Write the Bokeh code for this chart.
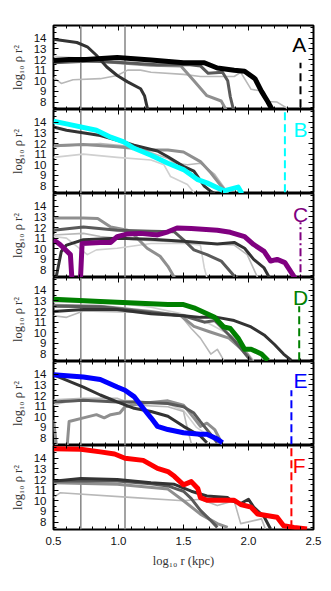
from bokeh.plotting import figure
from bokeh.models import Range1d, LinearAxis, FixedTicker, Span, Label, PrintfTickFormatter
from bokeh.layouts import column
from bokeh.embed import file_html
from bokeh.resources import INLINE

# ---------------- data ----------------
X_TICKS = [0.5, 1.0, 1.5, 2.0, 2.5]
X_MINOR = [0.6, 0.7, 0.8, 0.9, 1.1, 1.2, 1.3, 1.4, 1.6, 1.7, 1.8, 1.9, 2.1, 2.2, 2.3, 2.4]
Y_TICKS = [8, 9, 10, 11, 12, 13, 14]
Y_MINOR = [7.5, 8.5, 9.5, 10.5, 11.5, 12.5, 13.5, 14.5, 15.0]
VLINES = [0.71, 1.05]

LETTERS = ["A", "B", "C", "D", "E", "F"]
COLORS = ["#000000", "#00ffff", "#800080", "#008000", "#0000ff", "#ff0000"]
LETTER_X = [2.39, 2.40, 2.40, 2.40, 2.40, 2.39]
LETTER_Y = [13.45, 13.3, 13.25, 13.35, 13.45, 13.35]
DASH_X = [2.40, 2.28, 2.40, 2.39, 2.33, 2.33]
DASH_TOP = [11.7, 15.2, 12.5, 12.5, 12.5, 15.2]
DASH_STYLE = ["8 5", "8 4", "8 3 2 3", "8 4", "8 4", "8 4"]

# Panel A
A_X = [0.50, 0.62, 0.75, 0.99, 1.25, 1.50, 1.66, 1.76, 1.89, 1.97, 2.05, 2.10, 2.15, 2.19]
A_Y = [11.9, 12.0, 12.0, 12.2, 11.95, 11.7, 11.7, 11.2, 11.0, 10.9, 10.2, 9.0, 8.0, 7.1]
A_G1_X = [0.50, 0.68, 0.76, 0.83, 0.91, 0.99, 1.07, 1.17, 1.20, 1.23]
A_G1_Y = [13.9, 13.6, 13.2, 12.4, 11.3, 10.5, 9.9, 9.25, 8.6, 7.0]
A_G2_X = [0.50, 0.80, 1.05, 1.30, 1.55, 1.63, 1.69, 1.80, 1.84, 1.86, 1.89]
A_G2_Y = [11.7, 11.85, 11.7, 11.5, 11.5, 11.4, 10.7, 10.8, 10.0, 8.5, 7.0]
A_G3_X = [0.50, 0.75, 1.00, 1.25, 1.48, 1.58, 1.68, 1.79, 1.84]
A_G3_Y = [11.9, 11.9, 11.7, 11.45, 11.4, 10.0, 8.6, 8.1, 7.0]
A_G4_X = [0.50, 0.75, 1.00, 1.30, 1.60]
A_G4_Y = [12.3, 12.1, 12.1, 11.8, 11.7]
A_G5_X = [0.50, 0.56, 0.65, 0.86, 0.99, 1.07, 1.17, 1.25, 1.50, 1.63, 1.89, 1.94, 2.02, 2.12, 2.15, 2.22, 2.30]
A_G5_Y = [10.3, 9.75, 10.1, 10.2, 10.5, 11.0, 11.0, 10.8, 10.6, 10.4, 10.4, 10.8, 9.2, 9.0, 8.05, 8.0, 7.4]

# Panel B
B_X = [0.50, 0.60, 0.83, 0.94, 1.04, 1.12, 1.25, 1.38, 1.50, 1.61, 1.68, 1.81, 1.92, 1.95]
B_Y = [14.1, 13.85, 13.25, 12.6, 12.15, 11.55, 10.9, 10.15, 9.55, 8.6, 8.3, 7.55, 7.9, 7.3]
B_G1_X = [0.50, 0.60, 0.86, 1.04, 1.12, 1.30, 1.38, 1.50, 1.58, 1.66, 1.71, 1.74]
B_G1_Y = [13.55, 13.25, 12.75, 12.15, 11.85, 11.3, 10.75, 9.85, 9.4, 8.0, 7.5, 7.3]
B_G2_X = [0.50, 0.73, 0.99, 1.25, 1.38, 1.50, 1.63, 1.71, 1.79, 1.84]
B_G2_Y = [11.8, 11.9, 11.7, 11.4, 11.4, 11.2, 10.3, 9.25, 8.0, 7.3]
B_G3_X = [0.50, 0.86, 1.12, 1.38, 1.43, 1.53, 1.63, 1.74, 1.84]
B_G3_Y = [11.7, 12.0, 11.7, 10.6, 10.15, 10.0, 10.15, 9.1, 7.4]
B_G4_X = [0.50, 0.73, 0.99, 1.25, 1.35, 1.40, 1.53, 1.58]
B_G4_Y = [10.7, 11.0, 10.7, 10.45, 10.0, 8.9, 8.15, 7.4]

# Panel C
C_X = [0.50, 0.55, 0.63, 0.645, 0.705, 0.72, 0.86, 0.94, 0.99, 1.07, 1.17, 1.30, 1.38, 1.45, 1.56, 1.76, 1.86, 1.97, 2.04, 2.12, 2.17, 2.22, 2.28, 2.33, 2.36]
C_Y = [10.85, 10.4, 9.45, 6.5, 6.5, 10.5, 10.6, 10.6, 11.15, 11.4, 11.45, 11.3, 11.6, 11.95, 11.9, 11.75, 11.55, 11.15, 10.4, 9.75, 8.85, 9.0, 8.7, 7.75, 7.2]
C_G1_X = [0.52, 0.56, 0.60, 0.73, 0.99, 1.25, 1.50, 1.76, 1.89, 1.97, 2.04, 2.12, 2.16]
C_G1_Y = [7.3, 9.75, 10.35, 10.85, 11.0, 10.9, 10.7, 10.45, 10.6, 10.05, 9.0, 8.2, 7.3]
C_G2_X = [0.50, 0.73, 0.99, 1.25, 1.43, 1.50, 1.58, 1.68, 1.79, 1.89, 1.92]
C_G2_Y = [11.75, 12.05, 11.75, 11.65, 11.6, 10.85, 9.9, 9.45, 8.85, 7.45, 7.2]
C_G3_X = [0.50, 0.73, 0.84, 0.94, 1.07, 1.12, 1.22, 1.32, 1.38, 1.43]
C_G3_Y = [12.9, 12.9, 12.85, 12.05, 11.75, 11.3, 10.05, 9.3, 8.35, 7.3]
C_G4_X = [0.50, 0.73, 0.86, 1.12, 1.38, 1.63, 1.89, 1.99, 2.07]
C_G4_Y = [11.3, 11.45, 11.15, 10.85, 10.7, 10.5, 10.35, 9.45, 7.3]
C_G5_X = [0.50, 0.60, 0.76, 0.83, 0.99, 1.25, 1.50, 1.63, 1.66, 1.68]
C_G5_Y = [11.15, 11.0, 9.45, 9.9, 10.05, 10.5, 10.5, 10.35, 8.2, 7.3]

# Panel D
D_X = [0.50, 0.86, 1.12, 1.38, 1.50, 1.58, 1.66, 1.74, 1.81, 1.86, 1.92, 1.97, 2.02, 2.10, 2.15]
D_Y = [13.15, 12.95, 12.8, 12.65, 12.65, 12.35, 11.9, 11.45, 10.55, 10.4, 9.5, 8.45, 8.45, 8.0, 7.4]
D_G1_X = [0.50, 0.73, 0.99, 1.25, 1.50, 1.63, 1.76, 1.89, 2.02, 2.12, 2.20, 2.27, 2.33]
D_G1_Y = [12.0, 12.2, 12.2, 11.8, 11.6, 11.45, 11.45, 11.15, 10.55, 9.8, 8.9, 8.0, 7.4]
D_G2_X = [0.50, 0.86, 1.25, 1.48, 1.58, 1.70, 1.85, 1.99, 2.03]
D_G2_Y = [12.6, 12.5, 12.0, 11.6, 10.6, 10.1, 9.5, 8.0, 7.3]
D_G3_X = [0.50, 0.86, 1.25, 1.50, 1.66, 1.74, 1.89, 1.99, 2.03]
D_G3_Y = [12.5, 12.45, 11.9, 11.6, 11.0, 11.15, 9.3, 7.8, 7.2]
D_G4_X = [0.50, 0.60, 0.73, 1.25, 1.48, 1.56, 1.63, 1.71, 1.76, 1.81]
D_G4_Y = [11.6, 11.45, 12.05, 11.9, 11.6, 10.4, 9.5, 8.0, 8.45, 7.4]
D_G5_X = [0.50, 0.99, 1.25, 1.48, 1.63, 1.89, 2.04]
D_G5_Y = [12.9, 12.8, 12.4, 11.8, 11.3, 9.6, 7.4]

# Panel E
E_X = [0.50, 0.73, 0.86, 0.99, 1.05, 1.12, 1.19, 1.25, 1.30, 1.38, 1.50, 1.63, 1.68, 1.76, 1.80]
E_Y = [13.95, 13.75, 13.5, 12.8, 12.5, 11.9, 10.8, 9.9, 9.1, 8.8, 8.5, 8.35, 8.35, 7.9, 7.55]
E_G1_X = [0.50, 0.73, 0.86, 0.99, 1.12, 1.25, 1.38, 1.50, 1.63, 1.68]
E_G1_Y = [13.95, 12.8, 12.05, 11.4, 10.8, 10.5, 10.05, 9.1, 8.2, 7.55]
E_G2_X = [0.50, 0.73, 0.99, 1.12, 1.38, 1.50, 1.58, 1.63, 1.71, 1.76]
E_G2_Y = [11.4, 11.55, 11.4, 11.4, 11.25, 10.95, 10.35, 9.55, 8.35, 7.55]
E_G3_X = [0.50, 0.53, 0.60, 0.62, 0.73, 0.83, 0.89, 0.94, 1.01, 1.05, 1.17, 1.38, 1.50, 1.58, 1.63, 1.68, 1.74, 1.80]
E_G3_Y = [9.7, 6.5, 6.5, 9.55, 9.9, 10.2, 9.9, 10.2, 10.35, 10.95, 11.25, 11.5, 11.1, 9.9, 9.1, 9.4, 8.8, 7.4]
E_G4_X = [0.50, 0.73, 0.99, 1.12, 1.38, 1.50, 1.53, 1.56]
E_G4_Y = [11.6, 11.75, 11.75, 11.1, 10.95, 10.5, 8.9, 7.5]
E_G5_X = [0.50, 0.60, 0.86, 1.12, 1.38, 1.50, 1.60, 1.66]
E_G5_Y = [11.1, 11.4, 11.6, 11.5, 11.2, 10.6, 9.0, 8.5]

# Panel F
F_X = [0.50, 0.71, 0.86, 0.97, 1.05, 1.19, 1.30, 1.38, 1.43, 1.50, 1.56, 1.61, 1.63, 1.68, 1.89, 1.94, 2.02, 2.07, 2.15, 2.22, 2.27, 2.35, 2.45]
F_Y = [14.9, 14.85, 14.6, 14.4, 14.0, 13.8, 13.05, 12.75, 12.3, 11.5, 11.8, 11.15, 10.3, 10.05, 10.05, 9.65, 9.4, 8.75, 8.6, 8.45, 7.65, 7.5, 7.35]
F_G1_X = [0.50, 0.71, 0.99, 1.25, 1.43, 1.56, 1.68, 1.84, 1.87, 1.94, 2.00, 2.04, 2.12, 2.17]
F_G1_Y = [11.85, 12.1, 12.0, 11.7, 11.55, 10.9, 10.45, 10.3, 10.0, 9.75, 10.15, 9.4, 8.5, 7.35]
F_G2_X = [0.50, 0.99, 1.25, 1.38, 1.45, 1.50, 1.56, 1.63, 1.71, 1.76]
F_G2_Y = [11.85, 11.85, 11.6, 11.4, 11.1, 10.9, 10.2, 9.1, 8.15, 7.5]
F_G3_X = [0.50, 0.99, 1.38, 1.50, 1.63, 1.76, 1.84]
F_G3_Y = [11.7, 11.55, 11.1, 10.0, 8.75, 7.85, 7.5]
F_G4_X = [0.50, 0.55, 1.12, 1.50, 1.63, 1.76, 1.89, 1.94, 2.10, 2.13]
F_G4_Y = [10.3, 10.75, 10.3, 10.0, 10.15, 9.55, 10.0, 7.85, 8.3, 7.35]

X_MIN, X_MAX = 0.5, 2.5
Y_MIN, Y_MAX = 7.3, 15.2

DARK, MID, GREY, LIGHT, PALE = "#333333", "#5a5a5a", "#8f8f8f", "#b8b8b8", "#d0d0d0"

PANEL_MAIN = [(A_X, A_Y), (B_X, B_Y), (C_X, C_Y), (D_X, D_Y), (E_X, E_Y), (F_X, F_Y)]
PANEL_GREYS = [
    [(A_G5_X, A_G5_Y, LIGHT, 1.6), (A_G4_X, A_G4_Y, PALE, 1.6), (A_G3_X, A_G3_Y, GREY, 3),
     (A_G2_X, A_G2_Y, MID, 3), (A_G1_X, A_G1_Y, DARK, 3)],
    [(B_G4_X, B_G4_Y, PALE, 1.6), (B_G3_X, B_G3_Y, LIGHT, 1.6), (B_G2_X, B_G2_Y, GREY, 3),
     (B_G1_X, B_G1_Y, DARK, 3)],
    [(C_G5_X, C_G5_Y, PALE, 1.6), (C_G4_X, C_G4_Y, LIGHT, 1.6), (C_G3_X, C_G3_Y, GREY, 3),
     (C_G2_X, C_G2_Y, MID, 3), (C_G1_X, C_G1_Y, DARK, 3)],
    [(D_G5_X, D_G5_Y, PALE, 1.6), (D_G4_X, D_G4_Y, LIGHT, 1.6), (D_G2_X, D_G2_Y, GREY, 3),
     (D_G3_X, D_G3_Y, MID, 3), (D_G1_X, D_G1_Y, DARK, 3)],
    [(E_G5_X, E_G5_Y, PALE, 1.6), (E_G4_X, E_G4_Y, LIGHT, 1.6), (E_G3_X, E_G3_Y, GREY, 3),
     (E_G2_X, E_G2_Y, MID, 3), (E_G1_X, E_G1_Y, DARK, 3)],
    [(F_G4_X, F_G4_Y, LIGHT, 1.6), (F_G3_X, F_G3_Y, GREY, 3), (F_G2_X, F_G2_Y, MID, 3),
     (F_G1_X, F_G1_Y, DARK, 3)],
]

TICK_FONT = "Liberation Sans"
LABEL_FONT = "Liberation Serif"


def make_axis(dim, show_labels, label=None):
    if dim == "x":
        ticker = FixedTicker(ticks=X_TICKS, minor_ticks=X_MINOR)
    else:
        ticker = FixedTicker(ticks=Y_TICKS, minor_ticks=Y_MINOR)
    ax = LinearAxis(ticker=ticker, major_tick_in=5, major_tick_out=0,
                    minor_tick_in=3, minor_tick_out=0, axis_line_color=None,
                    major_tick_line_color="black", minor_tick_line_color="black",
                    major_tick_line_width=1, minor_tick_line_width=1)
    if dim == "x":
        ax.formatter = PrintfTickFormatter(format="%.1f")
    if show_labels:
        ax.major_label_text_font = TICK_FONT
        ax.major_label_text_font_size = "11.5px"
        ax.major_label_text_color = "#111111"
        ax.major_label_standoff = 7
    else:
        ax.major_label_text_color = None
        ax.major_label_text_font_size = "0px"
        ax.major_label_standoff = 0
    if label:
        ax.axis_label = label
        ax.axis_label_text_font = LABEL_FONT
        ax.axis_label_text_font_style = "normal"
        ax.axis_label_text_font_size = "12.5px"
        ax.axis_label_text_color = "#333333"
        ax.axis_label_standoff = 6
    return ax


xr = Range1d(X_MIN, X_MAX)
figs = []
for i in range(6):
    last = i == 5
    p = figure(x_range=xr, y_range=Range1d(Y_MIN, Y_MAX),
               frame_width=260, frame_height=84,
               min_border_left=53, min_border_right=14,
               min_border_top=25 if i == 0 else 0, min_border_bottom=0,
               x_axis_location=None, y_axis_location=None,
               output_backend="svg", toolbar_location=None)
    p.grid.visible = False
    p.outline_line_color = "black"
    p.outline_line_width = 2
    p.background_fill_color = "white"
    p.border_fill_color = "white"

    p.add_layout(make_axis("y", True, "log₁₀ ρ r²"), "left")
    p.add_layout(make_axis("y", False), "right")
    p.add_layout(make_axis("x", False), "above")
    if last:
        p.add_layout(make_axis("x", True, "log₁₀ r (kpc)"), "below")
    else:
        p.add_layout(make_axis("x", False), "below")

    for v in VLINES:
        p.add_layout(Span(location=v, dimension="height", line_color="#8c8c8c",
                          line_width=1.6, level="underlay"))

    for gx, gy, gc, gw in PANEL_GREYS[i]:
        p.line(gx, gy, line_color=gc, line_width=gw, line_join="round")

    mx, my = PANEL_MAIN[i]
    p.line(mx, my, line_color=COLORS[i], line_width=5, line_join="round")

    p.segment(x0=[DASH_X[i]], y0=[Y_MIN - 1], x1=[DASH_X[i]], y1=[DASH_TOP[i]],
              line_color=COLORS[i], line_width=2, line_dash=DASH_STYLE[i])

    p.add_layout(Label(x=LETTER_X[i], y=LETTER_Y[i], text=LETTERS[i],
                       text_align="center", text_baseline="middle",
                       text_font=TICK_FONT, text_font_size="21px",
                       text_color=COLORS[i]))
    figs.append(p)

layout = column(*figs, spacing=0)
open("out.html", "w").write(file_html(layout, INLINE))
